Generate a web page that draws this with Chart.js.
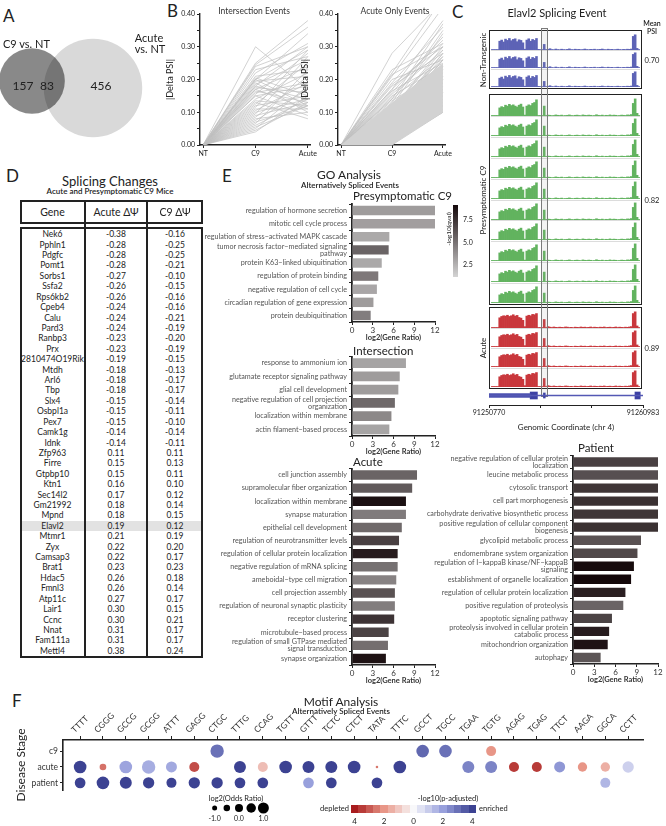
<!DOCTYPE html>
<html>
<head>
<meta charset="utf-8">
<title>Splicing figure</title>
<script src="https://cdn.jsdelivr.net/npm/chart.js@4.4.1/dist/chart.umd.min.js"></script>
<style>
  html, body { margin: 0; padding: 0; background: #fff; }
  #fig { position: relative; width: 666px; height: 826px; overflow: hidden; font-family: Lato, "Open Sans", sans-serif; color: #222; }
  #fig canvas, #fig .t, #fig .b { position: absolute; }
  .t { white-space: nowrap; line-height: 1; }
</style>
</head>
<body>
<div id="fig"></div>
<script>
// ---------- data ----------
// A: Venn
const vennSets = ['C9 vs. NT', 'Acute vs. NT'];
const vennUnique = [157, 456];
const vennShared = 83;
const vennCenterX = [0, 61];
const vennCenterY = [0, -7];

// B: |Delta PSI| per event
const psiStages = ['NT', 'C9', 'Acute'];
const ntDelta = 0;
const psiTicks = [0, 0.05, 0.10, 0.15, 0.20, 0.25, 0.30, 0.35, 0.40];
const psiTickLabels = ['0.00', '', '0.10', '', '0.20', '', '0.30', '', '0.40'];
const isecC9 = [0.30,0.25,0.245,0.24,0.23,0.22,0.21,0.205,0.20,0.20,0.195,0.19,0.185,0.18,0.18,0.175,0.17,0.17,0.165,0.16,0.155,0.15,0.15,0.14,0.135,0.13,0.125,0.12,0.115,0.11,0.105,0.10,0.095,0.09,0.085,0.08,0.075,0.07,0.065,0.06,0.055,0.05,0.045,0.04,0.20];
const isecAcute = [0.17,0.38,0.36,0.30,0.27,0.31,0.23,0.15,0.29,0.12,0.21,0.10,0.26,0.14,0.30,0.16,0.11,0.24,0.13,0.19,0.28,0.09,0.18,0.22,0.12,0.08,0.25,0.15,0.29,0.11,0.19,0.14,0.27,0.13,0.21,0.10,0.17,0.12,0.23,0.14,0.12,0.18,0.13,0.15,0.34];
const aoC9 = [0.28,0.23,0.22,0.215,0.21,0.20,0.19,0.185,0.18,0.17,0.165,0.16,0.155,0.15,0.145,0.14,0.135,0.13,0.125,0.12,0.115,0.11,0.105,0.10,0.095,0.09,0.085,0.08,0.075,0.07,0.065,0.06,0.055,0.05,0.045,0.04,0.035,0.03,0.025,0.02,0.015,0.01,0.005,0.0,0.0,0.0,0.0,0.0,0.0,0.0,0.12,0.10,0.08,0.06,0.04,0.14,0.09,0.02,0.17,0.11];
const aoAcute = [0.44,0.31,0.45,0.30,0.42,0.26,0.36,0.30,0.28,0.38,0.25,0.33,0.29,0.24,0.31,0.27,0.23,0.35,0.22,0.26,0.21,0.30,0.20,0.24,0.19,0.28,0.18,0.22,0.17,0.26,0.16,0.21,0.15,0.23,0.14,0.19,0.13,0.20,0.12,0.17,0.11,0.15,0.10,0.10,0.12,0.14,0.16,0.18,0.21,0.24,0.34,0.28,0.26,0.22,0.19,0.37,0.27,0.15,0.32,0.29];
const aoBandLow = [0, 0, 0.10];
const aoBandHigh = [0, 0.13, 0.25];

// C: coverage tracks
const groupNames = ['Non-Transgenic', 'Presymptomatic C9', 'Acute'];
const replicateCounts = [3, 10, 4];
const meanPsi = ['0.70', '0.82', '0.89'];
const groupColors = ['#5d63b6', '#62b35f', '#c9373c'];
const ntProfile = [0.03,0.03,0.03,0.03, 0.55,0.62,0.5,0.68,0.6,0.72,0.58,0.66,0.7,0.52,0.64,0.6,0.45, 0.05, 0.62,0.7,0.55,0.66,0.6,0.72, 0.04,0.03,0.03, 0.35,
  0.03,0.04,0.08,0.03,0.02,0.06,0.03,0.02,0.05,0.03,0.02,0.04,0.07,0.03,0.02,0.05,0.03,0.04,0.02,0.03,0.06,0.03,0.02,0.04,0.03,0.05,0.02,0.03,0.04,0.06,0.03,0.02,0.05,0.03,0.04,0.02,0.03,0.05,0.03,0.02,0.04,0.03,0.05,0.04,0.06,
  0.85,0.95, 0.1,0.03];
const c9Profile = [0.03,0.03,0.03,0.03, 0.45,0.52,0.48,0.6,0.55,0.65,0.58,0.62,0.55,0.5,0.6,0.66,0.5, 0.05, 0.55,0.62,0.58,0.7,0.75,0.9, 0.03,0.03,0.03, 0.55,
  0.03,0.05,0.04,0.02,0.03,0.06,0.04,0.03,0.05,0.02,0.03,0.04,0.06,0.03,0.02,0.04,0.05,0.03,0.02,0.06,0.04,0.03,0.05,0.04,0.02,0.03,0.07,0.04,0.03,0.05,0.02,0.04,0.03,0.06,0.03,0.05,0.04,0.02,0.03,0.05,0.04,0.03,0.06,0.05,0.08,
  0.7,0.95, 0.15,0.03];
const acuteProfile = [0.03,0.03,0.03,0.03, 0.6,0.68,0.72,0.7,0.75,0.68,0.72,0.78,0.7,0.74,0.62,0.58,0.45, 0.08, 0.7,0.75,0.72,0.8,0.78,0.85, 0.03,0.03,0.03, 0.5,
  0.03,0.08,0.05,0.03,0.06,0.04,0.03,0.05,0.04,0.03,0.06,0.05,0.03,0.04,0.02,0.05,0.04,0.03,0.06,0.04,0.05,0.03,0.04,0.06,0.03,0.05,0.04,0.03,0.05,0.04,0.06,0.03,0.04,0.05,0.03,0.04,0.06,0.03,0.05,0.04,0.03,0.05,0.04,0.06,0.08,
  0.85,0.95, 0.12,0.03];
const groupProfiles = [ntProfile, c9Profile, acuteProfile];
const genomeStart = 91250770, genomeEnd = 91260983;
const genomeTicks = [91250770, 91254174, 91257579, 91260983];
const genomeTickLabels = ['91250770', '', '', '91260983'];
const geneExons = [[91250770, 91253500], [91253500, 91253980], [91254380, 91254500], [91260450, 91260800]];

// D: table
const genes = ['Nek6','Pphln1','Pdgfc','Pomt1','Sorbs1','Ssfa2','Rps6kb2','Cpeb4','Calu','Pard3','Ranbp3','Prx','2810474O19Rik','Mtdh','Arl6','Tbp','Slx4','Osbpl1a','Pex7','Camk1g','Idnk','Zfp963','Firre','Gtpbp10','Ktn1','Sec14l2','Gm21992','Mpnd','Elavl2','Mtmr1','Zyx','Camsap3','Brat1','Hdac5','Fmnl3','Atp11c','Lair1','Ccnc','Nnat','Fam111a','Mettl4'];
const acuteDpsi = ['-0.38','-0.28','-0.28','-0.28','-0.27','-0.26','-0.26','-0.24','-0.24','-0.24','-0.23','-0.23','-0.19','-0.18','-0.18','-0.18','-0.15','-0.15','-0.15','-0.14','-0.14','0.11','0.15','0.15','0.16','0.17','0.18','0.18','0.19','0.21','0.22','0.22','0.23','0.26','0.26','0.27','0.30','0.30','0.31','0.31','0.38'];
const c9Dpsi = ['-0.16','-0.25','-0.25','-0.21','-0.10','-0.15','-0.16','-0.16','-0.21','-0.19','-0.20','-0.19','-0.15','-0.13','-0.17','-0.17','-0.14','-0.11','-0.10','-0.14','-0.11','0.11','0.13','0.11','0.10','0.12','0.14','0.15','0.12','0.19','0.20','0.17','0.23','0.18','0.14','0.17','0.15','0.21','0.17','0.17','0.24'];
const highlightGene = 'Elavl2';

// E: GO analysis
const goTicks = [0, 3, 6, 9, 12];
const presympTerms = ['regulation of hormone secretion','mitotic cell cycle process','regulation of stress\u2212activated MAPK cascade',['tumor necrosis factor\u2212mediated signaling','pathway'],'protein K63\u2212linked ubiquitination','regulation of protein binding','negative regulation of cell cycle','circadian regulation of gene expression','protein deubiquitination'];
const presympRatio = [12, 12, 5.4, 5.3, 4.3, 3.8, 3.6, 3.1, 2.7];
const presympQ = [3.3, 3.2, 2.8, 5.5, 2.8, 4.7, 2.9, 3.3, 4.5];
const intersectTerms = ['response to ammonium ion','glutamate receptor signaling pathway','glial cell development',['negative regulation of cell projection','organization'],'localization within membrane','actin filament\u2212based process'];
const intersectRatio = [7.8, 6.9, 6.7, 6.2, 5.7, 5.4];
const intersectQ = [3.0, 3.3, 3.3, 5.3, 4.1, 3.0];
const acuteTerms = ['cell junction assembly','supramolecular fiber organization','localization within membrane','synapse maturation','epithelial cell development','regulation of neurotransmitter levels','regulation of cellular protein localization','negative regulation of mRNA splicing','ameboidal\u2212type cell migration','cell projection assembly','regulation of neuronal synaptic plasticity','receptor clustering','microtubule\u2212based process',['regulation of small GTPase mediated','signal transduction'],'synapse organization'];
const acuteRatio = [9.4, 8.7, 7.8, 7.8, 7.2, 6.8, 6.6, 6.6, 6.4, 6.2, 6.2, 6.1, 5.3, 5.2, 4.9];
const acuteQ = [5.5, 5.9, 8.8, 4.6, 5.3, 6.9, 8.3, 5.0, 4.3, 6.2, 4.5, 7.4, 6.8, 5.1, 8.7];
const patientTerms = [['negative regulation of cellular protein','localization'],'leucine metabolic process','cytosolic transport','cell part morphogenesis','carbohydrate derivative biosynthetic process',['positive regulation of cellular component','biogenesis'],'glycolipid metabolic process','endomembrane system organization',['regulation of I\u2212kappaB kinase/NF\u2212kappaB','signaling'],'establishment of organelle localization','regulation of cellular protein localization','positive regulation of proteolysis','apoptotic signaling pathway',['proteolysis involved in cellular protein','catabolic process'],'mitochondrion organization','autophagy'];
const patientRatio = [12, 12, 12, 12, 12, 12, 9.6, 9.1, 8.6, 8.2, 7.4, 7.1, 5.5, 5.1, 4.9, 3.9];
const patientQ = [6.9, 6.3, 7.3, 7.5, 7.3, 7.5, 6.2, 6.6, 9.0, 9.2, 8.2, 5.5, 6.8, 8.3, 8.7, 6.1];
const qRange = [1.1, 9.1];
const qTicks = [7.5, 5.0, 2.5];

// F: motif analysis
const motifs = ['TTTT','CGGG','GCCG','GCGG','ATTT','GAGG','CTGC','TTTG','CCAG','TGTT','GTTT','TCTC','CTCT','TATA','TTTC','GCCT','TGCC','TGAA','TGTG','AGAG','TGAG','TTCT','AAGA','GGCA','CCTT'];
const stages = ['c9', 'acute', 'patient'];
const c9Odds    = [null,null,null,null,null,null,1.8,null,null,null,null,null,null,null,null,1.55,1.55,null,0.67,null,null,null,null,null,null];
const c9Score   = [null,null,null,null,null,null,3.0,null,null,null,null,null,null,null,null,3.2,3.0,null,-2.0,null,null,null,null,null,null];
const acuteOdds = [1.55,-0.45,1.55,1.8,1.0,0.67,null,1.33,0.67,1.55,1.33,1.33,1.55,-1.8,1.55,null,null,1.33,1.33,0.67,0.67,1.0,0.45,0.45,1.1];
const acuteScore= [4,-2.6,1.9,1.7,1.8,-3.2,null,4,-1.2,4,4,4,4,-2.5,4,null,null,2.6,2.6,-3.5,-3.5,2.2,-2.0,-1.5,0.9];
const patientOdds  = [0.9,1.55,1.33,1.1,0.67,1.1,1.1,0.9,0.9,null,0.9,0.9,null,0.9,null,null,null,null,null,null,null,null,null,0.67,null];
const patientScore = [4,4,4,4,4,4,4,4,4,null,2.0,4,null,4,null,null,null,null,null,null,null,null,null,1.5,null];
const stageOdds = [c9Odds, acuteOdds, patientOdds];
const stageScore = [c9Score, acuteScore, patientScore];
const oddsLegend = [-1, -0.5, 0, 0.5, 1];
const oddsLegendTicks = [-1, 0, 1];
const scoreLegend = [-4,-3.5,-3,-2.5,-2,-1.5,-1,-0.5,0,0.5,1,1.5,2,2.5,3,3.5,4];
const scoreLegendTicks = [-4, -2, 0, 2, 4];

// ---------- helpers ----------
Chart.defaults.font.family = 'Lato, "Open Sans", sans-serif';
Chart.defaults.color = '#333';
Chart.defaults.animation = false;
Chart.defaults.responsive = false;
Chart.defaults.plugins.legend.display = false;
Chart.defaults.plugins.tooltip.enabled = false;

const fig = document.getElementById('fig');

function text(str, x, y, o = {}) {
  const d = document.createElement('div');
  d.className = 't';
  d.textContent = str;
  d.style.left = x + 'px';
  d.style.top = y + 'px';
  d.style.fontSize = (o.size || 9) + 'px';
  if (o.weight) d.style.fontWeight = o.weight;
  d.style.color = o.color || '#222';
  const ax = o.align === 'left' ? '0' : o.align === 'right' ? '-100%' : '-50%';
  d.style.transform = `translate(${ax}, -50%)` + (o.rotate ? ` rotate(${o.rotate}deg)` : '');
  fig.appendChild(d);
  return d;
}

function box(x, y, w, h, css) {
  const d = document.createElement('div');
  d.className = 'b';
  d.style.cssText = `left:${x}px;top:${y}px;width:${w}px;height:${h}px;box-sizing:border-box;` + css;
  fig.appendChild(d);
  return d;
}

function makeCanvas(x, y, w, h) {
  const c = document.createElement('canvas');
  c.width = w; c.height = h;
  c.style.left = x + 'px'; c.style.top = y + 'px';
  c.style.width = w + 'px'; c.style.height = h + 'px';
  fig.appendChild(c);
  return c;
}

function qColor(q) {
  const t = Math.max(0, Math.min(1, (q - qRange[0]) / (qRange[1] - qRange[0])));
  const a = [212, 212, 212], b = [20, 8, 10];
  return `rgb(${a.map((c, k) => Math.round(c + (b[k] - c) * t)).join(',')})`;
}

function scoreColor(s) {
  const t = Math.min(Math.abs(s) / 4, 1);
  const stops = s >= 0 ? [[248,248,250],[152,160,220],[60,66,146]] : [[248,248,250],[232,150,135],[168,28,30]];
  const seg = t < 0.5 ? 0 : 1;
  const u = t < 0.5 ? t * 2 : (t - 0.5) * 2;
  const a = stops[seg], b = stops[seg + 1];
  return `rgb(${a.map((c, k) => Math.round(c + (b[k] - c) * u)).join(',')})`;
}

const axisGrid = { drawOnChartArea: false, tickLength: 3, color: '#222' };
const axisBorder = { color: '#222', width: 1.4 };

// ---------- panel letters ----------
text('A', 3, 15, { size: 17, align: 'left' });
text('B', 167, 10, { size: 17, align: 'left' });
text('C', 452, 11, { size: 17, align: 'left' });
text('D', 6, 175, { size: 17, align: 'left' });
text('E', 222, 175, { size: 17, align: 'left' });
text('F', 12, 700, { size: 17, align: 'left' });

// ---------- A: Venn ----------
const vennSize = vennUnique.map(u => u + vennShared);
new Chart(makeCanvas(0, 25, 170, 130), {
  type: 'bubble',
  data: {
    datasets: [
      { data: [{ x: vennCenterX[0], y: vennCenterY[0], r: Math.sqrt(vennSize[0]) * 2.12 }], backgroundColor: '#898989', borderWidth: 0, clip: false },
      { data: [{ x: vennCenterX[1], y: vennCenterY[1], r: Math.sqrt(vennSize[1]) * 2.12 }], backgroundColor: '#d9d9d9', borderWidth: 0, clip: false }
    ]
  },
  options: {
    layout: { padding: 0, autoPadding: false },
    scales: { x: { display: false, min: -32, max: 138 }, y: { display: false, min: -74, max: 56 } }
  },
  plugins: [{
    id: 'multiply',
    beforeDatasetDraw(chart, args) { if (args.index === 0) chart.ctx.globalCompositeOperation = 'multiply'; },
    afterDatasetDraw(chart) { chart.ctx.globalCompositeOperation = 'source-over'; }
  }]
});
text(vennSets[0], 3, 43, { size: 11, align: 'left' });
text('Acute', 149, 37, { size: 11 });
text('vs. NT', 150, 48, { size: 11 });
text(String(vennUnique[0]), 23, 86, { size: 12 });
text(String(vennShared), 47, 86, { size: 12 });
text(String(vennUnique[1]), 101, 86, { size: 12 });

// ---------- B: |Delta PSI| lines ----------
function psiPanel(left, axisW, c9Vals, acuteVals, band, title, titleX) {
  const datasets = [];
  if (band) {
    datasets.push({ data: psiStages.map((_, i) => ({ x: i, y: band[0][i] })), borderWidth: 0, pointRadius: 0, fill: false });
    datasets.push({ data: psiStages.map((_, i) => ({ x: i, y: band[1][i] })), borderWidth: 0, pointRadius: 0, fill: '-1', backgroundColor: '#d2d2d2' });
  }
  c9Vals.forEach((v, i) => datasets.push({
    data: [{ x: 0, y: ntDelta }, { x: 1, y: v }, { x: 2, y: acuteVals[i] }],
    borderColor: 'rgba(192,192,192,0.9)', borderWidth: 0.8, pointRadius: 0, fill: false
  }));
  new Chart(makeCanvas(left, 4, 153, 157), {
    type: 'line',
    data: { datasets },
    options: {
      layout: { padding: { top: 10, right: 8, bottom: 0, left: 0 } },
      scales: {
        x: {
          type: 'linear', min: -0.06, max: 2.04,
          afterBuildTicks: s => { s.ticks = psiStages.map((_, i) => ({ value: i })); },
          ticks: { callback: v => psiStages[v], font: { size: 7 }, padding: 2, color: '#222' },
          grid: axisGrid, border: axisBorder,
          afterFit: s => { s.height = 16; s.paddingLeft = 0; s.paddingRight = 0; }
        },
        y: {
          min: 0, max: 0.4,
          afterBuildTicks: s => { s.ticks = psiTicks.map(v => ({ value: v })); },
          ticks: { callback: (v, i) => psiTickLabels[i], font: { size: 7 }, padding: 2, color: '#222' },
          grid: axisGrid, border: axisBorder,
          title: { display: true, text: '|Delta PSI|', font: { size: 9 }, padding: { top: 0, bottom: 1 }, color: '#222' },
          afterFit: s => { s.width = axisW; s.paddingTop = 0; s.paddingBottom = 0; }
        }
      }
    }
  });
  text(title, titleX, 11, { size: 8.5, color: '#333' });
}
psiPanel(165, 35, isecC9, isecAcute, null, 'Intersection Events', 254);
psiPanel(300, 38, aoC9, aoAcute, [aoBandLow, aoBandHigh], 'Acute Only Events', 395);

// ---------- C: coverage tracks ----------
text('Elavl2 Splicing Event', 557, 12, { size: 11 });
text('Mean', 652, 23, { size: 7, weight: 600 });
text('PSI', 652, 31, { size: 7, weight: 600 });
const trackBoxes = [[30, 89], [94, 305], [307, 389]];
replicateCounts.forEach((n, gi) => {
  const [top, bottom] = trackBoxes[gi];
  const h = (bottom - top - 3) / n;
  for (let k = 0; k < n; k++) {
    const y = top + 1.5 + k * h;
    const prof = groupProfiles[gi];
    new Chart(makeCanvas(491, Math.round(y + 2), 149, Math.round(h - 3)), {
      type: 'bar',
      data: { labels: prof.map((_, i) => i), datasets: [{ data: prof, backgroundColor: groupColors[gi], barPercentage: 1, categoryPercentage: 1 }] },
      options: { layout: { padding: 0 }, scales: { x: { display: false }, y: { display: false, min: 0, max: 1 } } }
    });
    if (k < n - 1) box(491, Math.round(y + h), 149, 1, 'background:#dcdcdc;');
  }
  box(489, top, 153, bottom - top, 'border:1.5px solid #222;');
  text(groupNames[gi], 483, (top + bottom) / 2, { size: 8, rotate: -90 });
  text(meanPsi[gi], 652, (top + bottom) / 2 + 1, { size: 7.5 });
});
box(541, 28, 7, 369, 'border:1.2px solid #7a7a7a;background:rgba(160,160,160,0.12);');

new Chart(makeCanvas(470, 384, 196, 48), {
  type: 'bar',
  data: {
    labels: ['gene'],
    datasets: [
      { data: [[genomeStart, genomeEnd]], backgroundColor: '#5458b4', barThickness: 1, grouped: false },
      { data: [geneExons[0]], backgroundColor: '#4d52b0', barThickness: 4, grouped: false },
      { data: [geneExons[1]], backgroundColor: '#3c40a4', barThickness: 7, grouped: false },
      { data: [geneExons[2]], backgroundColor: '#3c40a4', barThickness: 5, grouped: false },
      { data: [geneExons[3]], backgroundColor: '#3c40a4', barThickness: 7, grouped: false }
    ]
  },
  options: {
    indexAxis: 'y',
    layout: { padding: { top: 2, left: 19, right: 23, bottom: 0 } },
    scales: {
      x: {
        type: 'linear', min: genomeStart, max: genomeEnd,
        afterBuildTicks: s => { s.ticks = genomeTicks.map(v => ({ value: v })); },
        ticks: { callback: (v, i) => genomeTickLabels[i], font: { size: 7 }, padding: 1, maxRotation: 0, color: '#222' },
        grid: axisGrid, border: { color: '#222', width: 1 },
        title: { display: true, text: 'Genomic Coordinate (chr 4)', font: { size: 8 }, padding: 0, color: '#222' },
        afterFit: s => { s.height = 27; s.paddingLeft = 0; s.paddingRight = 0; }
      },
      y: { display: false }
    }
  }
});

// ---------- D: table ----------
text('Splicing Changes', 110, 181, { size: 13 });
text('Acute and Presymptomatic C9 Mice', 110, 191, { size: 8, weight: 600 });
const tblL = 20, tblR = 203, colX = [20, 85, 147, 203];
const headTop = 200, headBot = 224, bodyTop = 227, bodyBot = 658;
const rowH = (bodyBot - bodyTop - 4) / genes.length;
genes.forEach((g, i) => {
  const yc = bodyTop + 2 + rowH * (i + 0.5);
  if (g === highlightGene) box(tblL + 2, yc - rowH / 2, tblR - tblL - 4, rowH, 'background:#e2e2e2;');
  text(g, (colX[0] + colX[1]) / 2, yc, { size: 8.5 });
  text(acuteDpsi[i], (colX[1] + colX[2]) / 2, yc, { size: 8.5 });
  text(c9Dpsi[i], (colX[2] + colX[3]) / 2, yc, { size: 8.5 });
});
box(tblL, headTop, tblR - tblL, headBot - headTop, 'border:2px solid #222;');
box(tblL, bodyTop, tblR - tblL, bodyBot - bodyTop, 'border:2px solid #222;');
[colX[1], colX[2]].forEach(x => box(x - 1, headTop, 2, bodyBot - headTop, 'background:#222;'));
text('Gene', (colX[0] + colX[1]) / 2, 212, { size: 10.5 });
text('Acute \u0394\u03A8', (colX[1] + colX[2]) / 2, 212, { size: 10.5 });
text('C9 \u0394\u03A8', (colX[2] + colX[3]) / 2, 212, { size: 10.5 });

// ---------- E: GO bars ----------
text('GO Analysis', 349, 175, { size: 12 });
text('Alternatively Spliced Events', 350, 184.5, { size: 8, weight: 600 });

function goChart(terms, ratios, qs, left, top, width, height, axisW, padTop, title, titleX, titleY) {
  new Chart(makeCanvas(left, top, width, height), {
    type: 'bar',
    data: { labels: terms, datasets: [{ data: ratios, backgroundColor: qs.map(qColor), barPercentage: 0.72, categoryPercentage: 1 }] },
    options: {
      indexAxis: 'y',
      layout: { padding: { top: padTop, right: 6, left: 0, bottom: 0 } },
      scales: {
        x: {
          min: 0, max: 12,
          afterBuildTicks: s => { s.ticks = goTicks.map(v => ({ value: v })); },
          ticks: { font: { size: 8 }, padding: 1, color: '#333' },
          grid: axisGrid, border: axisBorder,
          title: { display: true, text: 'log2(Gene Ratio)', font: { size: 7.5, weight: 'bold' }, padding: 0, color: '#333' },
          afterFit: s => { s.height = 20; s.paddingLeft = 0; s.paddingRight = 0; }
        },
        y: {
          ticks: { font: { size: 7.2, lineHeight: 1 }, color: '#555', padding: 2, autoSkip: false },
          grid: axisGrid, border: { color: '#222', width: 1.8 },
          afterFit: s => { s.width = axisW; s.paddingTop = 0; s.paddingBottom = 0; }
        }
      }
    }
  });
  text(title, titleX, titleY, { size: 11.5, align: 'left' });
}
goChart(presympTerms, presympRatio, presympQ, 170, 196, 271, 146, 182, 8, 'Presymptomatic C9', 353, 196);
goChart(intersectTerms, intersectRatio, intersectQ, 170, 350, 271, 106, 182, 6.5, 'Intersection', 353, 351);
goChart(acuteTerms, acuteRatio, acuteQ, 170, 462, 271, 223, 182, 6.5, 'Acute', 353, 462);
goChart(patientTerms, patientRatio, patientQ, 400, 450, 264, 234, 173, 5.5, 'Patient', 578, 448);

// q-value colorbar
const cbTop = 205, cbH = 72;
box(453, cbTop, 5, cbH, `background:linear-gradient(to bottom, ${qColor(qRange[1])}, ${qColor(qRange[0])});`);
qTicks.forEach(q => text(q.toFixed(1), 463, cbTop + (qRange[1] - q) / (qRange[1] - qRange[0]) * cbH, { size: 7, align: 'left' }));
text('-log10(qval)', 449, 229, { size: 6.5, rotate: -90 });

// ---------- F: motif bubbles ----------
text('Motif Analysis', 341, 702, { size: 12 });
text('Alternatively Spliced Events', 341, 711, { size: 8, weight: 600 });
const bubbleData = [];
stages.forEach((st, si) => {
  motifs.forEach((m, mi) => {
    const v = stageOdds[si][mi];
    if (v !== null) bubbleData.push({ x: mi, y: si, r: 4 + 1.5 * v, s: stageScore[si][mi] });
  });
});
new Chart(makeCanvas(0, 700, 650, 112), {
  type: 'bubble',
  data: { datasets: [{ data: bubbleData, backgroundColor: c => scoreColor(c.raw ? c.raw.s : 0), borderWidth: 0, clip: false }] },
  options: {
    layout: { padding: { top: 0, right: 7, bottom: 22, left: 0 }, autoPadding: false },
    scales: {
      x: {
        type: 'linear', position: 'top', min: -0.75, max: 24.65,
        afterBuildTicks: s => { s.ticks = motifs.map((_, i) => ({ value: i })); },
        ticks: { callback: v => motifs[v], minRotation: 45, maxRotation: 45, autoSkip: false, font: { size: 8.5 }, padding: 1, color: '#333' },
        grid: { drawOnChartArea: false, tickLength: 4, color: '#222' }, border: { color: '#222', width: 1.6 },
        afterFit: s => { s.height = 40; s.paddingLeft = 0; s.paddingRight = 0; }
      },
      y: {
        type: 'linear', min: -0.7, max: 2.45, reverse: true,
        afterBuildTicks: s => { s.ticks = stages.map((_, i) => ({ value: i })); },
        ticks: { callback: v => stages[v], font: { size: 8.5 }, padding: 2, color: '#333' },
        grid: { drawOnChartArea: false, tickLength: 3, color: '#222' }, border: { color: '#222', width: 1.6 },
        title: { display: true, text: 'Disease Stage', font: { size: 12 }, padding: { top: 14, bottom: 0 }, color: '#222' },
        afterFit: s => { s.width = 63; s.paddingTop = 0; s.paddingBottom = 0; }
      }
    }
  }
});

// odds-ratio size legend
const olLeft = 200, olW = 78, olMin = -1.6, olMax = 1.6;
text('log2(Odds Ratio)', 236, 799, { size: 7.5 });
new Chart(makeCanvas(olLeft, 802, olW, 12), {
  type: 'bubble',
  data: { datasets: [{ data: oddsLegend.map(v => ({ x: v, y: 0, r: 4 + 1.5 * v })), backgroundColor: '#000', borderWidth: 0, clip: false }] },
  options: {
    layout: { padding: 0, autoPadding: false },
    scales: { x: { display: false, min: olMin, max: olMax }, y: { display: false, min: -1, max: 1 } }
  }
});
oddsLegendTicks.forEach(v => text(v.toFixed(1), olLeft + (v - olMin) / (olMax - olMin) * olW, 818, { size: 7 }));

// p-adjusted colour legend
const slX = 351, slW = 125 / scoreLegend.length;
scoreLegend.forEach((v, i) => box(slX + i * slW, 805, slW + 0.3, 8, `background:${scoreColor(v)};`));
scoreLegendTicks.forEach(v => {
  const i = scoreLegend.indexOf(v);
  text(String(Math.abs(v)), slX + slW * (i + 0.5), 821, { size: 8 });
});
text('-log10(p-adjusted)', 448, 799, { size: 7.5 });
text('depleted', 349, 809, { size: 7.5, align: 'right' });
text('enriched', 479, 809, { size: 7.5, align: 'left' });
</script>
</body>
</html>
